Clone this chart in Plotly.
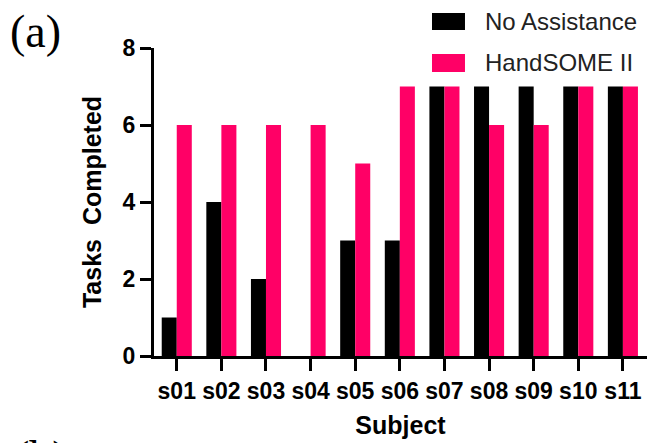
import plotly.graph_objects as go

# Tasks completed per subject, with and without the HandSOME II device
subjects = ["s01", "s02", "s03", "s04", "s05", "s06", "s07", "s08", "s09", "s10", "s11"]
no_assistance = [1, 4, 2, 0, 3, 3, 7, 7, 7, 7, 7]
handsome_ii = [6, 6, 6, 6, 5, 7, 7, 6, 6, 7, 7]
y_ticks = [0, 2, 4, 6, 8]

series_names = ["No Assistance", "HandSOME II"]
series_colors = ["#000000", "#FF0066"]

BOLD = dict(family="Liberation Sans, Arial, sans-serif", color="black", weight="bold")

fig = go.Figure()
for name, vals, color in zip(series_names, [no_assistance, handsome_ii], series_colors):
    fig.add_trace(go.Bar(
        x=subjects, y=vals, name=name,
        marker=dict(color=color, line=dict(width=0)),
        showlegend=False,
    ))

# Hand-built legend: large swatches with labels, top right
swatch_y = [(1.0584, 1.1136), (0.9221, 0.9805)]
for (y0, y1), name, color in zip(swatch_y, series_names, series_colors):
    fig.add_shape(type="rect", xref="paper", yref="paper",
                  x0=0.5639, x1=0.6308, y0=y0, y1=y1,
                  fillcolor=color, line=dict(width=0))
    fig.add_annotation(xref="paper", yref="paper", x=0.6673, y=(y0 + y1) / 2,
                       xanchor="left", yanchor="middle", showarrow=False,
                       text=name,
                       font=dict(family="Liberation Sans, Arial, sans-serif",
                                 size=24, color="#222222"))

# Panel letters
fig.add_annotation(xref="paper", yref="paper", x=-0.296, y=1.052,
                   xanchor="left", yanchor="middle", showarrow=False, text="(a)",
                   font=dict(family="Liberation Serif, Times New Roman, serif",
                             size=46, color="black"))
fig.add_annotation(xref="paper", yref="paper", x=-0.288, y=-0.33,
                   xanchor="left", yanchor="middle", showarrow=False, text="(b)",
                   font=dict(family="Liberation Serif, Times New Roman, serif",
                             size=46, color="black"))

fig.update_layout(
    width=653, height=443,
    margin=dict(l=154, r=6, t=48, b=87),
    paper_bgcolor="white", plot_bgcolor="white",
    barmode="group", bargap=0.326, bargroupgap=0,
    showlegend=False,
    xaxis=dict(
        range=[-0.51, 10.54],
        showline=True, linewidth=3, linecolor="black",
        ticks="outside", ticklen=12, tickwidth=3, tickcolor="black",
        showgrid=False, zeroline=False,
        tickfont=dict(size=23, **BOLD),
        title=dict(text="Subject", font=dict(size=25, **BOLD), standoff=14),
    ),
    yaxis=dict(
        range=[0, 8], tickvals=y_ticks,
        showline=True, linewidth=3, linecolor="black",
        ticks="outside", ticklen=11, tickwidth=3, tickcolor="black",
        showgrid=False, zeroline=False,
        tickfont=dict(size=23, **BOLD),
        title=dict(text="Tasks  Completed", font=dict(size=25, **BOLD), standoff=14),
    ),
)

fig.write_html("out.html")
